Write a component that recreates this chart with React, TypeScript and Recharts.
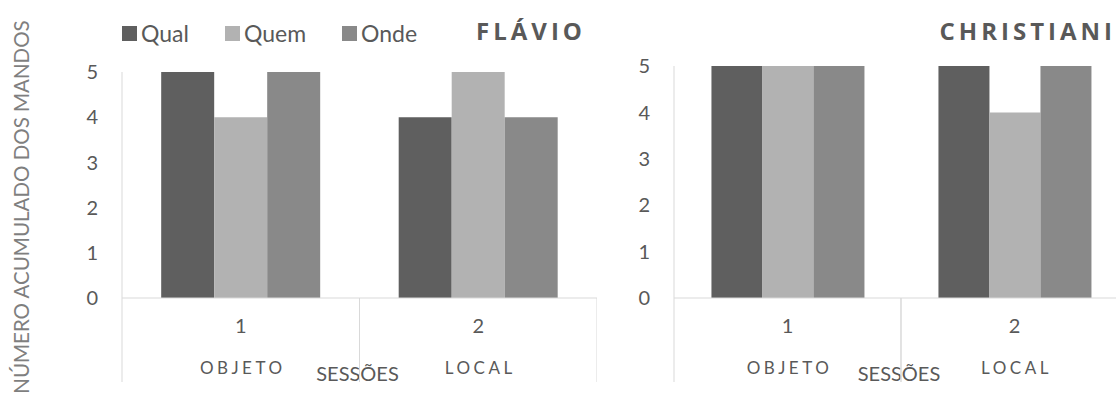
import React from 'react';
import { BarChart, Bar, XAxis, YAxis, Legend } from 'recharts';

// sessions on the x axis and the group label under each one
const sessions = ['1', '2'];
const groups = ['OBJETO', 'LOCAL'];
const yTicks = [0, 1, 2, 3, 4, 5];

// Flávio
const flavioQual = [5, 4];
const flavioQuem = [4, 5];
const flavioOnde = [5, 4];

// Christiani
const christianiQual = [5, 5];
const christianiQuem = [5, 4];
const christianiOnde = [5, 5];

const series = [
  { key: 'qual', name: 'Qual', color: '#5f5f5f' },
  { key: 'quem', name: 'Quem', color: '#b2b2b2' },
  { key: 'onde', name: 'Onde', color: '#898989' }
];

const TEXT = '#595959';
const AXIS = '#d9d9d9';
const FONT = 'Lato, "Open Sans", sans-serif';

const buildData = (qual: number[], quem: number[], onde: number[]) =>
  sessions.map((s, i) => ({ session: s, qual: qual[i], quem: quem[i], onde: onde[i] }));

const flavioData = buildData(flavioQual, flavioQuem, flavioOnde);
const christianiData = buildData(christianiQual, christianiQuem, christianiOnde);

// tick with the session number, the group name and the band separators
const makeTick = (band: number) => (props: any) => {
  const { x, y, payload, index } = props;
  return (
    <g>
      <text x={x} y={y + 35} textAnchor="middle" fontSize={20} fill={TEXT} fontFamily={FONT}>
        {payload.value}
      </text>
      <text x={x + 2} y={y + 76} textAnchor="middle" fontSize={17} letterSpacing={3.5} fill={TEXT} fontFamily={FONT}>
        {groups[index]}
      </text>
      <line x1={x - band / 2} x2={x - band / 2} y1={y} y2={y + 84} stroke={AXIS} />
      <line x1={x + band / 2} x2={x + band / 2} y1={y} y2={y + 84} stroke={AXIS} />
    </g>
  );
};

const sessoesLabel = (props: any) => {
  const vb = props.viewBox || { x: 0, y: 0, width: 0, height: 0 };
  return (
    <text x={vb.x + vb.width / 2 - 2} y={vb.y + 83} textAnchor="middle" fontSize={20} fill={TEXT} fontFamily={FONT}>
      SESSÕES
    </text>
  );
};

const yLabel = (props: any) => {
  const vb = props.viewBox || { x: 0, y: 72, width: 122, height: 226 };
  const cx = vb.x + 21;
  const cy = vb.y + vb.height / 2 + 22;
  return (
    <text
      x={cx}
      y={cy}
      transform={`rotate(-90, ${cx}, ${cy})`}
      textAnchor="middle"
      dominantBaseline="central"
      fontSize={20.5}
      fill="#7f7f7f"
      fontFamily={FONT}
    >
      NÚMERO ACUMULADO DOS MANDOS
    </text>
  );
};

const LegendContent = () => (
  <div style={{ display: 'flex', fontFamily: FONT, fontSize: 23, color: TEXT }}>
    {series.map((s) => (
      <div key={s.key} style={{ display: 'flex', alignItems: 'center', marginRight: 36 }}>
        <span style={{ width: 15, height: 15, background: s.color, marginRight: 4, display: 'inline-block' }} />
        <span>{s.name}</span>
      </div>
    ))}
  </div>
);

interface PanelProps {
  data: any[];
  width: number;
  yAxisWidth: number;
  top: number;
  showYLabel?: boolean;
  showLegend?: boolean;
}

const Panel: React.FC<PanelProps> = ({ data, width, yAxisWidth, top, showYLabel, showLegend }) => {
  const band = (width - yAxisWidth) / sessions.length;
  return (
    <BarChart
      width={width}
      height={395}
      data={data}
      margin={{ top, right: 0, bottom: 0, left: 0 }}
      barCategoryGap="16.5%"
      barGap={0}
    >
      <XAxis
        dataKey="session"
        height={97}
        axisLine={{ stroke: AXIS }}
        tickLine={false}
        tickSize={0}
        tickMargin={0}
        tick={makeTick(band)}
        label={{ content: sessoesLabel }}
      />
      <YAxis
        width={yAxisWidth}
        domain={[0, 5]}
        ticks={yTicks}
        axisLine={{ stroke: AXIS }}
        tickLine={false}
        tickSize={0}
        tickMargin={24}
        tick={{ fill: TEXT, fontSize: 20, fontFamily: FONT }}
        label={showYLabel ? { content: yLabel } : undefined}
      />
      {showLegend && (
        <Legend
          layout="horizontal"
          verticalAlign="middle"
          content={<LegendContent />}
          wrapperStyle={{ top: 19, left: 122, width: 'auto' }}
        />
      )}
      {series.map((s) => (
        <Bar key={s.key} dataKey={s.key} name={s.name} fill={s.color} isAnimationActive={false} />
      ))}
    </BarChart>
  );
};

const titleStyle: React.CSSProperties = {
  position: 'absolute',
  top: 14,
  fontFamily: '"Open Sans", sans-serif',
  fontWeight: 700,
  fontSize: 24,
  letterSpacing: 4,
  color: TEXT,
  whiteSpace: 'nowrap'
};

export default function App() {
  return (
    <div
      style={{
        position: 'absolute',
        left: 0,
        top: 0,
        width: 1116,
        height: 395,
        overflow: 'hidden',
        background: '#fff'
      }}
    >
      <div style={{ position: 'absolute', left: 0, top: 0 }}>
        <Panel data={flavioData} width={597} yAxisWidth={122} top={72} showYLabel showLegend />
      </div>
      <div style={{ position: 'absolute', left: 560, top: 0 }}>
        <Panel data={christianiData} width={568} yAxisWidth={114} top={66} />
      </div>
      <div style={{ ...titleStyle, left: 476 }}>FLÁVIO</div>
      <div style={{ ...titleStyle, right: 0 }}>CHRISTIANI</div>
    </div>
  );
}
